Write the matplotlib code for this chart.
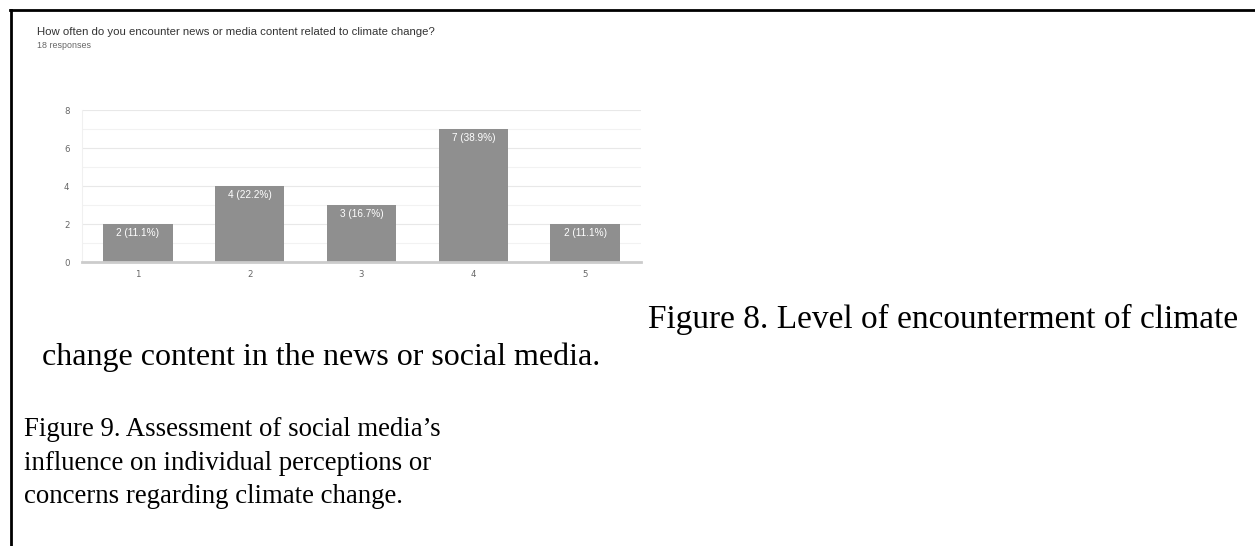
import numpy as np
import matplotlib.pyplot as plt
from matplotlib.lines import Line2D

# survey responses (scale 1-5)
categories = ['1', '2', '3', '4', '5']
counts = [2, 4, 3, 7, 2]
total = 18
title = 'How often do you encounter news or media content related to climate change?'
subtitle = '18 responses'
caption8 = ['Figure 8. Level of encounterment of climate',
            'change content in the news or social media.']
caption9 = ['Figure 9. Assessment of social media\u2019s',
            'influence on individual perceptions or',
            'concerns regarding climate change.']

fig = plt.figure(figsize=(12.55, 5.46), dpi=100)
fig.patch.set_facecolor('white')

W, H = 1255, 546

# page border: top and left rules
fig.add_artist(Line2D([10 / W, 1], [1 - 10 / H, 1 - 10 / H], color='black', lw=2.0))
fig.add_artist(Line2D([11 / W, 11 / W], [0, 1 - 10 / H], color='black', lw=2.0))

# chart heading
fig.text(37 / W, 1 - 32 / H, title, fontsize=8.2, color='#333333',
         family='Liberation Sans', va='center', ha='left')
fig.text(37 / W, 1 - 46 / H, subtitle, fontsize=6.4, color='#666666',
         family='Liberation Sans', va='center', ha='left')

ax = fig.add_axes([82 / W, 1 - 262 / H, 559 / W, 152 / H])
x = np.arange(len(categories))
bars = ax.bar(x, counts, width=0.62, color='#8f8f8f', zorder=3)

ax.set_xlim(-0.5, 4.5)
ax.set_ylim(0, 8)
ax.set_yticks([0, 2, 4, 6, 8])
ax.set_yticks([1, 3, 5, 7], minor=True)
ax.set_xticks(x)
ax.set_xticklabels(categories)
ax.grid(axis='y', which='major', color='#e8e8e8', lw=0.8, zorder=0)
ax.grid(axis='y', which='minor', color='#f2f2f2', lw=0.8, zorder=0)
ax.tick_params(axis='both', which='both', length=0, labelsize=6.2,
               labelcolor='#666666', pad=6)
ax.tick_params(axis='y', pad=9)
for s in ['top', 'right']:
    ax.spines[s].set_visible(False)
ax.spines['left'].set_color('#f0f0f0')
ax.spines['left'].set_linewidth(0.8)
ax.spines['bottom'].set_color('#cccccc')
ax.spines['bottom'].set_linewidth(2.0)
ax.spines['bottom'].set_zorder(4)

# value labels inside the bars
for xi, c in zip(x, counts):
    ax.annotate(f'{c} ({c / total * 100:.1f}%)', (xi, c), xytext=(0, -6.5),
                textcoords='offset points', ha='center', va='center',
                fontsize=7.2, color='white', family='Liberation Sans', zorder=5)

# captions below the chart
serif = dict(family='Liberation Serif', color='black', va='baseline', ha='left')
fig.text(648 / W, 1 - 328 / H, caption8[0], fontsize=24, **serif)
fig.text(42 / W, 1 - 365 / H, caption8[1], fontsize=23, **serif)
for i, line in enumerate(caption9):
    fig.text(24 / W, 1 - (436 + 33.5 * i) / H, line, fontsize=19.3, **serif)

fig.savefig('out.png', dpi=100, facecolor='white')
